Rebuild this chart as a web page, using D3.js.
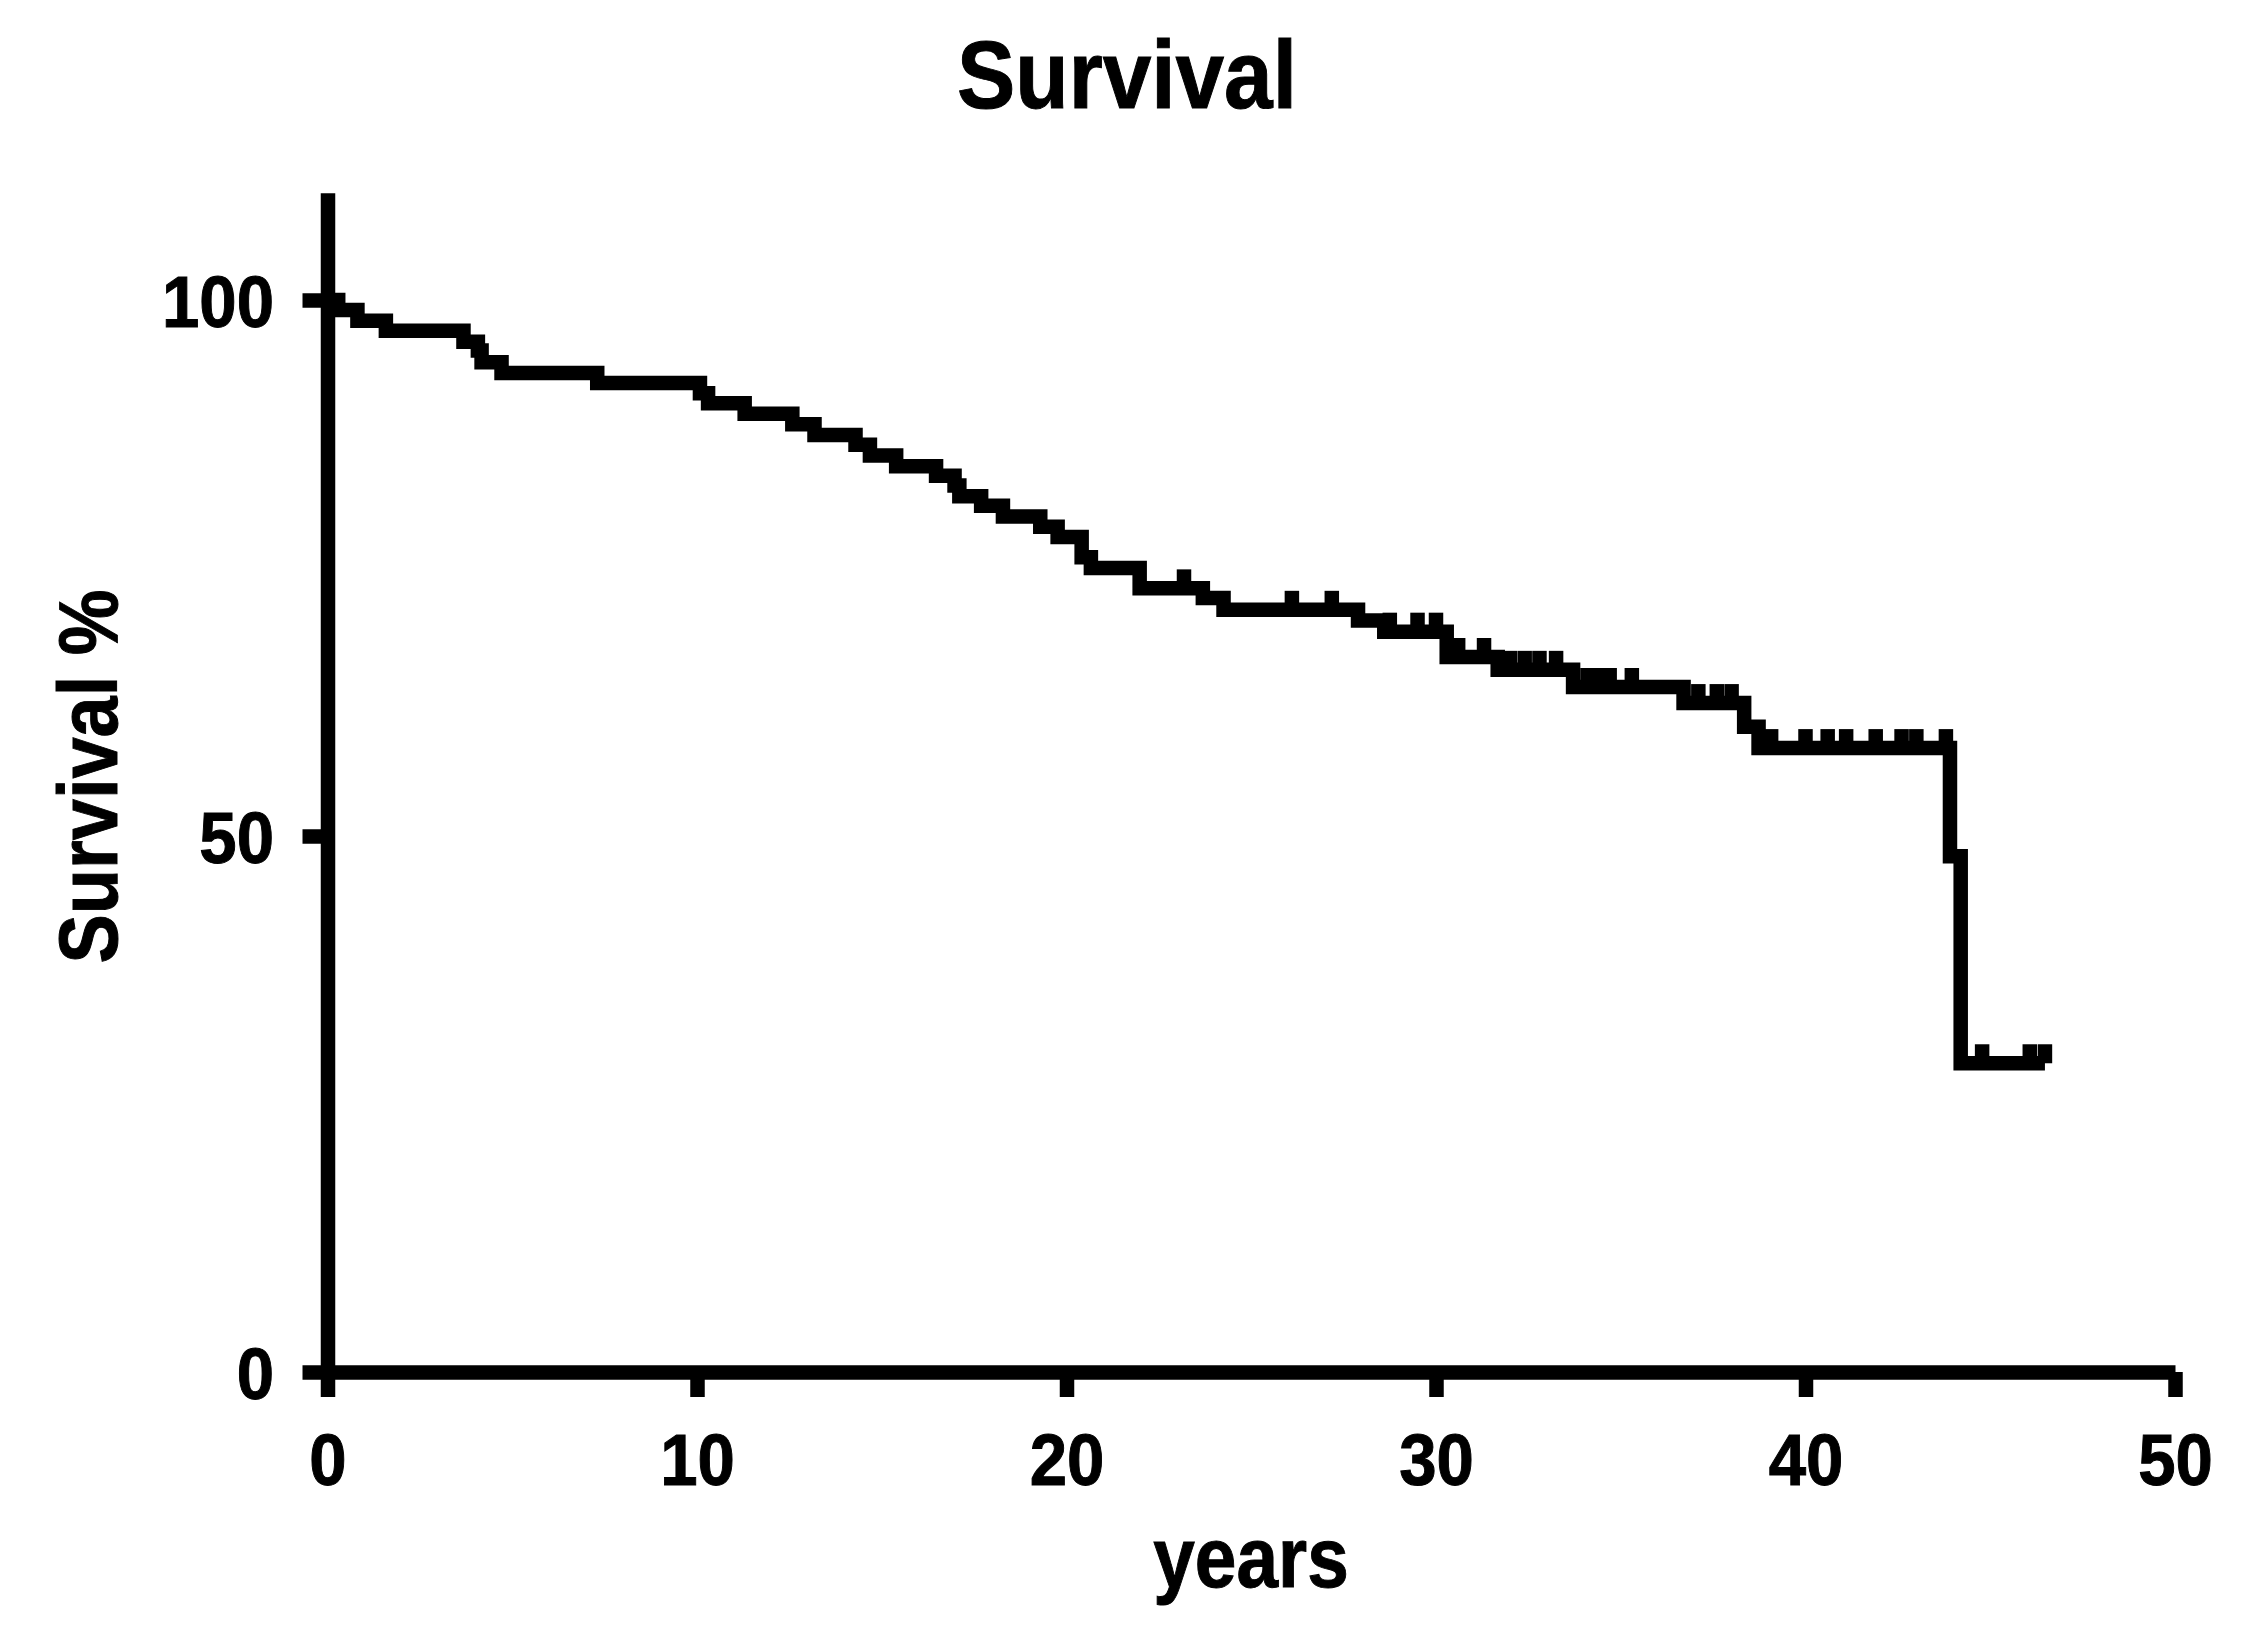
<!DOCTYPE html>
<html><head><meta charset="utf-8">
<script src="https://cdn.jsdelivr.net/npm/d3@7"></script>
<style>
body{margin:0;background:#fff}
svg{display:block;background:#fff}
</style>
</head><body>
<svg id="c" width="2247" height="1647"></svg>
<script>
// ---- data ----
const stepTimes = [0, 0.29, 0.81, 1.58, 3.68, 4.07, 4.17, 4.71, 7.30, 10.08, 10.30, 11.29, 12.58, 13.18, 14.29, 14.68, 15.39, 16.47, 16.97, 17.10, 17.69, 18.28, 19.29, 19.76, 20.41, 20.66, 21.98, 23.69, 24.25, 27.89, 28.60, 30.29, 31.67, 33.71, 36.70, 38.34, 38.73, 43.91, 44.20];
const stepSurvival = [100, 99.07, 98.07, 97.14, 96.1, 95.3, 94.2, 93.2, 92.26, 91.3, 90.36, 89.4, 88.4, 87.4, 86.5, 85.5, 84.5, 83.6, 82.7, 81.7, 80.8, 79.8, 78.85, 77.9, 76.0, 75.0, 73.1, 72.2, 71.1, 70.1, 69.06, 66.7, 65.5, 63.9, 62.4, 60.2, 58.2, 48.1, 28.8];
const endTime = 46.48;
const censorTimes = [23.18, 26.1, 27.18, 28.75, 29.5, 30.0, 30.6, 31.3, 32.0, 32.4, 32.8, 33.25, 34.1, 34.4, 34.7, 35.3, 37.1, 37.6, 38.0, 39.07, 40.0, 40.6, 41.1, 41.9, 42.6, 43.0, 43.8, 44.78, 46.07, 46.48];
const xTicks = [0, 10, 20, 30, 40, 50];
const yTicks = [0, 50, 100];
const titleText = "Survival";
const xLabelText = "years";
const yLabelText = "Survival %";

// ---- layout ----
const FONT = '"Liberation Sans", Arial, Helvetica, sans-serif';
const SW = 14.5;
const svg = d3.select("#c");
const x = d3.scaleLinear().domain([0, 50]).range([327.5, 2175]);
const y = d3.scaleLinear().domain([0, 110]).range([1372, 1372 - 110 * 10.72]);

// axes
const gx = svg.append("g").attr("transform", `translate(0,${y(0)})`)
  .call(d3.axisBottom(x).tickValues(xTicks).tickSize(25).tickSizeOuter(0).tickFormat(d3.format("d")));
const gy = svg.append("g").attr("transform", `translate(${x(0)},0)`)
  .call(d3.axisLeft(y).tickValues(yTicks).tickSize(25).tickSizeOuter(0).tickFormat(d3.format("d")));

[gx, gy].forEach(g => {
  g.select(".domain").attr("stroke", "#000").attr("stroke-width", SW).attr("stroke-linecap", "butt");
  g.selectAll(".tick line").attr("stroke", "#000").attr("stroke-width", SW).attr("stroke-linecap", "butt");
  g.selectAll(".tick text").style("font-family", FONT).style("font-weight", "bold")
    .style("font-size", "73px").attr("fill", "#000")
    .attr("stroke", "#000").attr("stroke-width", 1);
});
gx.selectAll(".tick text").attr("y", 0).attr("dy", 0)
  .attr("text-anchor", "middle")
  .attr("transform", "translate(0,113) scale(0.92,1)");
gy.selectAll(".tick text").attr("x", 0).attr("dy", "0.36em")
  .attr("text-anchor", "end")
  .attr("transform", "translate(-53.5,0) scale(0.92,1)");

// survival curve
const pts = stepTimes.map((t, i) => [t, stepSurvival[i]]);
pts.push([endTime, stepSurvival[stepSurvival.length - 1]]);
const line = d3.line().x(d => x(d[0])).y(d => y(d[1])).curve(d3.curveStepAfter);
svg.append("path").datum(pts).attr("d", line)
  .attr("fill", "none").attr("stroke", "#000").attr("stroke-width", SW)
  .attr("stroke-linejoin", "miter").attr("stroke-linecap", "butt");

// censor ticks
function survAt(t) {
  const i = d3.bisectRight(stepTimes, t) - 1;
  return stepSurvival[Math.max(0, i)];
}
svg.append("g").selectAll("line").data(censorTimes).join("line")
  .attr("x1", d => x(d)).attr("x2", d => x(d))
  .attr("y1", d => y(survAt(d))).attr("y2", d => y(survAt(d)) - 19)
  .attr("stroke", "#000").attr("stroke-width", SW).attr("stroke-linecap", "butt");

// titles
function label(txt, tr, size) {
  svg.append("text").text(txt).attr("transform", tr)
    .attr("text-anchor", "middle").attr("fill", "#000")
    .attr("stroke", "#000").attr("stroke-width", 1)
    .style("font-family", FONT).style("font-weight", "bold").style("font-size", size + "px");
}
label(titleText, "translate(1127,108) scale(0.91,1)", 96);
label(xLabelText, "translate(1251,1587) scale(0.88,1)", 85);
label(yLabelText, "translate(117,776.5) rotate(-90) scale(0.88,1)", 84);
</script>
</body></html>
